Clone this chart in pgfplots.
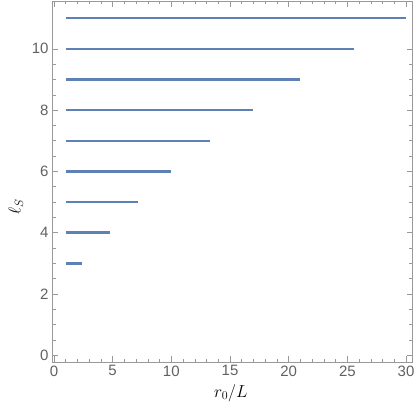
\documentclass[border=0pt]{standalone}
\usepackage{fontspec}
\setmainfont{Liberation Sans}
\usepackage{pgfplots}
\pgfplotsset{compat=1.18}
\definecolor{mblue}{rgb}{0.368417,0.506779,0.709798}
\begin{document}
\begin{tikzpicture}[x=1pt,y=1pt]
\path[use as bounding box] (0,0) rectangle (415,413);
\begin{axis}[at={(52pt,51pt)}, anchor=south west, scale only axis,
  width=360.7pt, height=361pt,
  xmin=-0.17, xmax=30.57, ymin=-0.22, ymax=11.56,
  axis line style={black!40, line width=0.6pt},
  xtick={0,5,...,30}, minor x tick num=4,
  ytick={0,2,...,10}, minor y tick num=3,
  tick align=inside, major tick length=6pt, minor tick length=3.5pt,
  every tick/.style={black!40, line width=0.5pt},
  ticklabel style={font=\fontsize{15}{15}\selectfont, text=black!62},
  /pgf/number format/assume math mode=true,
  xlabel={$r_0/L$}, ylabel={$\ell_S$},
  label style={font=\fontsize{18}{18}\selectfont},
  xlabel style={at={(axis description cs:0.496,-0.086)}, anchor=center},
  ylabel style={at={(axis description cs:-0.1,0.43)}, anchor=center},
  clip=false,
]
\addplot[mblue, line width=2.4pt] coordinates {(1,3) (2.4,3)};
\addplot[mblue, line width=2.4pt] coordinates {(1,4) (4.75,4)};
\addplot[mblue, line width=2.4pt] coordinates {(1,5) (7.2,5)};
\addplot[mblue, line width=2.4pt] coordinates {(1,6) (10.0,6)};
\addplot[mblue, line width=2.4pt] coordinates {(1,7) (13.3,7)};
\addplot[mblue, line width=2.4pt] coordinates {(1,8) (17.0,8)};
\addplot[mblue, line width=2.4pt] coordinates {(1,9) (21.0,9)};
\addplot[mblue, line width=2.4pt] coordinates {(1,10) (25.6,10)};
\addplot[mblue, line width=2.4pt] coordinates {(1,11) (30.0,11)};
\end{axis}
\end{tikzpicture}
\end{document}
